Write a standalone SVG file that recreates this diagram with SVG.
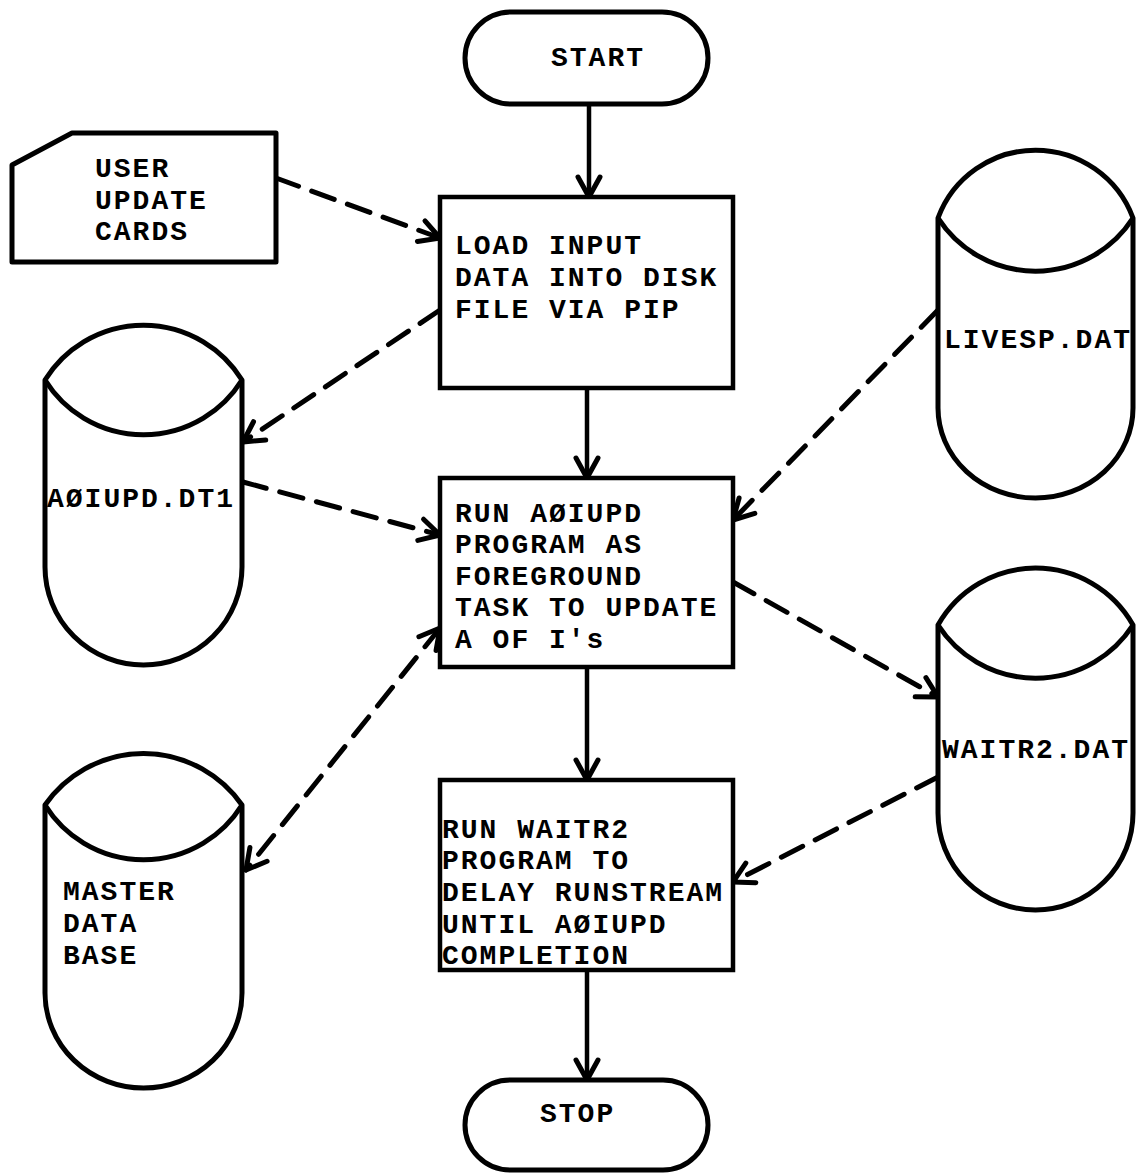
<svg xmlns="http://www.w3.org/2000/svg" width="1136" height="1174" viewBox="0 0 1136 1174">
<style>
.shape{fill:#fff;stroke:#000;stroke-width:5;stroke-linejoin:round}
.box{fill:#fff;stroke:#000;stroke-width:4.5}
.t{font-family:"Liberation Mono","DejaVu Sans Mono",monospace;font-weight:bold;font-size:28px;letter-spacing:2px;fill:#000}
.solid{fill:none;stroke:#000;stroke-width:4.5;marker-end:url(#ah)}
.dash{fill:none;stroke:#000;stroke-width:5;stroke-dasharray:24 14;stroke-linecap:round;marker-end:url(#ah)}
</style>
<defs>
<marker id="ah" markerUnits="userSpaceOnUse" viewBox="-26 -16 30 32" markerWidth="30" markerHeight="32" refX="0" refY="0" orient="auto-start-reverse" overflow="visible">
<path d="M-20,-11 L0,0 L-20,11" fill="none" stroke="#000" stroke-width="5" stroke-linecap="round" stroke-linejoin="round"/>
</marker>
</defs>
<rect width="1136" height="1174" fill="#fff"/>
<g id="connectors">
<line class="solid" x1="589" y1="104" x2="589" y2="197"/>
<line class="solid" x1="587" y1="388" x2="587" y2="478"/>
<line class="solid" x1="587" y1="667" x2="587" y2="780"/>
<line class="solid" x1="587" y1="970" x2="587" y2="1080"/>
<path class="dash" d="M276,178 L440,238"/>
<path class="dash" d="M440,310 L243,442"/>
<path class="dash" d="M243,482 L440,535"/>
<path class="dash" d="M938,310 L733,520"/>
<path class="dash" d="M733,582 L938,697"/>
<path class="dash" d="M938,777 L733,882"/>
<path class="dash" d="M440,628 L246,870" style="marker-start:url(#ah)"/>
</g>
<g id="start">
<rect class="shape" x="465" y="12" width="243" height="92" rx="46" ry="46"/>
<text class="t" x="551" y="66">START</text>
</g>
<g id="cards">
<path class="shape" d="M72,133 L276,133 L276,262 L12,262 L12,165 Z"/>
<text class="t" x="95" y="177">USER</text>
<text class="t" x="95" y="209">UPDATE</text>
<text class="t" x="95" y="240">CARDS</text>
</g>
<g id="load">
<rect class="box" x="440" y="197" width="293" height="191"/>
<text class="t" x="455" y="254">LOAD INPUT</text>
<text class="t" x="455" y="286">DATA INTO DISK</text>
<text class="t" x="455" y="318">FILE VIA PIP</text>
</g>
<g id="a0iupd-dt1">
<path class="shape" d="M45,380 A116,116 0 0 1 242,380 L242,567 A98.5,98 0 0 1 45,567 Z"/>
<path class="shape" fill="none" d="M45,380 A116,116 0 0 0 242,380"/>
<text class="t" x="47" y="507">AØIUPD.DT1</text>
</g>
<g id="livesp">
<path class="shape" d="M938,218 A104,104 0 0 1 1133,218 L1133,408 A97.5,90 0 0 1 938,408 Z"/>
<path class="shape" fill="none" d="M938,218 A116,116 0 0 0 1133,218"/>
<text class="t" x="944" y="348">LIVESP.DAT</text>
</g>
<g id="run-a0iupd">
<rect class="box" x="440" y="478" width="293" height="189"/>
<text class="t" x="455" y="522">RUN AØIUPD</text>
<text class="t" x="455" y="553">PROGRAM AS</text>
<text class="t" x="455" y="585">FOREGROUND</text>
<text class="t" x="455" y="616">TASK TO UPDATE</text>
<text class="t" x="455" y="648">A OF I's</text>
</g>
<g id="waitr2-dat">
<path class="shape" d="M938,625 A112,112 0 0 1 1133,625 L1133,813 A97.5,97 0 0 1 938,813 Z"/>
<path class="shape" fill="none" d="M938,625 A116,116 0 0 0 1133,625"/>
<text class="t" x="942" y="758">WAITR2.DAT</text>
</g>
<g id="run-waitr2">
<rect class="box" x="440" y="780" width="293" height="190"/>
<text class="t" x="442" y="838">RUN WAITR2</text>
<text class="t" x="442" y="869">PROGRAM TO</text>
<text class="t" x="442" y="901">DELAY RUNSTREAM</text>
<text class="t" x="442" y="933">UNTIL AØIUPD</text>
<text class="t" x="442" y="964">COMPLETION</text>
</g>
<g id="master">
<path class="shape" d="M45,805 A120,120 0 0 1 242,805 L242,993 A98.5,95 0 0 1 45,993 Z"/>
<path class="shape" fill="none" d="M45,805 A116,116 0 0 0 242,805"/>
<text class="t" x="63" y="900">MASTER</text>
<text class="t" x="63" y="932">DATA</text>
<text class="t" x="63" y="964">BASE</text>
</g>
<g id="stop">
<rect class="shape" x="465" y="1080" width="243" height="90" rx="45" ry="45"/>
<text class="t" x="540" y="1122">STOP</text>
</g>
</svg>
